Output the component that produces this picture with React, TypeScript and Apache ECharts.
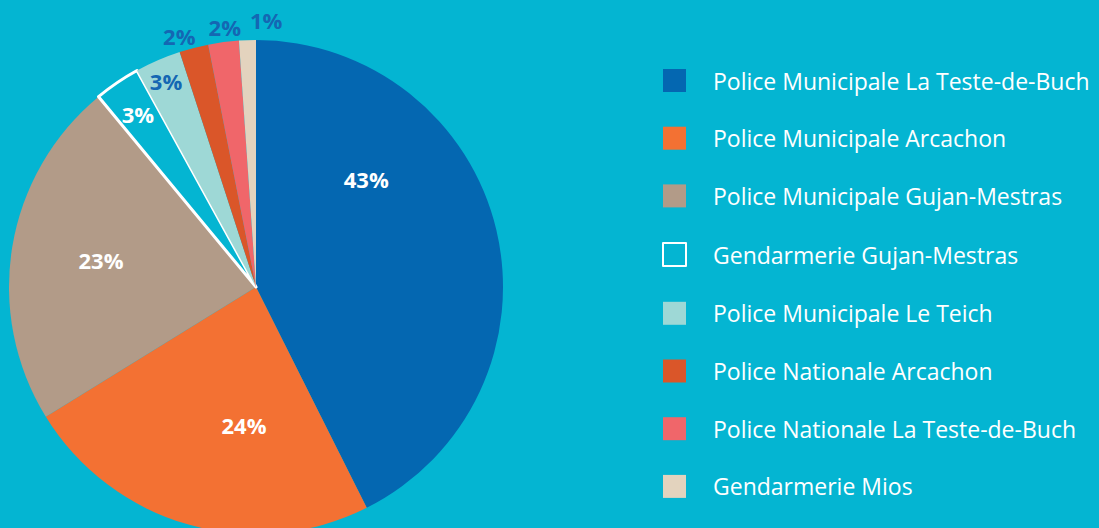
import React, { useEffect, useRef } from "react";
import * as echarts from "echarts";

const CATEGORIES = [
  "Police Municipale La Teste-de-Buch",
  "Police Municipale Arcachon",
  "Police Municipale Gujan-Mestras",
  "Gendarmerie Gujan-Mestras",
  "Police Municipale Le Teich",
  "Police Nationale Arcachon",
  "Police Nationale La Teste-de-Buch",
  "Gendarmerie Mios",
];
const VALUES = [42.6, 23.6, 22.8, 3.0, 3.0, 1.9, 2.0, 1.1];
const LABELS = ["43%", "24%", "23%", "3%", "3%", "2%", "2%", "1%"];

const BG = "#04B5D2";
const COLORS = ["#0467B1", "#F37133", "#B29B88", BG, "#9ED8D6", "#DA5629", "#F0666A", "#E3D3BE"];
const LABEL_COLORS = ["#fff", "#fff", "#fff", "#fff", "#1467B3", "#1467B3", "#1467B3", "#1467B3"];
// label placement (angle in degrees clockwise from top, distance from centre in px)
const LABEL_ANGLE = [46.1, 184.9, 279.2, 325.4, 336.2, 342.9, 353.1, 2.2];
const LABEL_DIST = [153, 141, 157, 208, 223, 261, 260, 265];

const CX = 256;
const CY = 287;
const R = 247;

export default function App() {
  const ref = useRef<HTMLDivElement>(null);
  useEffect(() => {
    if (!ref.current) return;
    const chart = echarts.init(ref.current, null, { renderer: "svg" });
    const data = CATEGORIES.map((name, i) => ({
      name,
      value: VALUES[i],
      itemStyle:
        i === 3
          ? { color: COLORS[i], borderColor: "#ffffff", borderWidth: 3 }
          : { color: COLORS[i], borderWidth: 0 },
      label: { color: LABEL_COLORS[i] },
    }));
    chart.setOption({
      animation: false,
      backgroundColor: BG,
      legend: {
        orient: "vertical",
        left: 657,
        top: 64,
        itemWidth: 23,
        itemHeight: 23,
        itemGap: 34.7,
        icon: "rect",
        selectedMode: false,
        textStyle: {
          color: "#ffffff",
          fontSize: 23,
          fontFamily: "Open Sans",
          padding: [0, 0, 0, 22],
        },
        data: CATEGORIES,
      },
      series: [
        {
          type: "pie",
          center: [CX, CY],
          radius: [0, R],
          startAngle: 90,
          clockwise: true,
          silent: true,
          label: {
            show: true,
            position: "inside",
            formatter: (p: any) => LABELS[p.dataIndex],
            fontSize: 22,
            fontWeight: "bold",
            fontFamily: "Open Sans",
          },
          labelLine: { show: false },
          labelLayout: (p: any) => {
            const a = (LABEL_ANGLE[p.dataIndex] * Math.PI) / 180;
            const d = LABEL_DIST[p.dataIndex];
            return {
              x: CX + d * Math.sin(a),
              y: CY - d * Math.cos(a) - 2,
              align: "center",
              verticalAlign: "middle",
            };
          },
          data,
        },
      ],
    });
    return () => chart.dispose();
  }, []);
  return (
    <div
      ref={ref}
      style={{ position: "fixed", left: 0, top: 0, width: 1099, height: 528 }}
    />
  );
}
